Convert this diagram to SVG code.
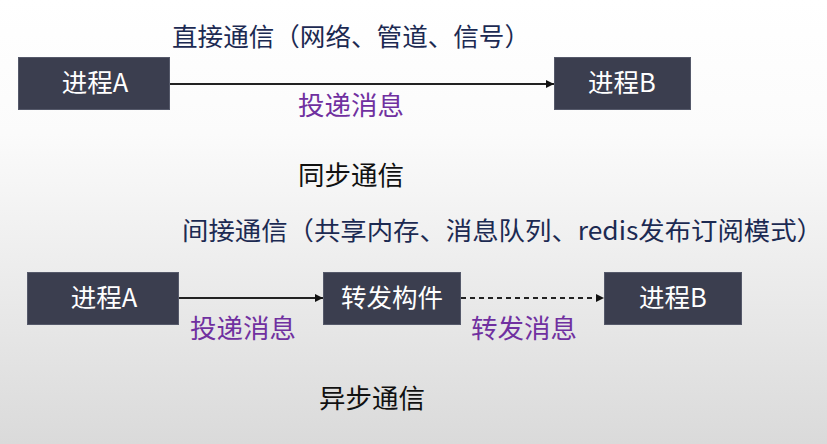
<svg xmlns="http://www.w3.org/2000/svg" width="827" height="444" viewBox="0 0 827 444">
  <defs>
    <linearGradient id="bg" x1="0" y1="0" x2="0" y2="1">
      <stop offset="0" stop-color="#ffffff"/>
      <stop offset="0.3" stop-color="#fbfbfb"/>
      <stop offset="1" stop-color="#dadada"/>
    </linearGradient>
    <marker id="arr" viewBox="0 0 10 10" refX="10" refY="5" markerWidth="8" markerHeight="8" markerUnits="userSpaceOnUse" orient="auto">
      <path d="M0,0 L10,5 L0,10 Z" fill="#111"/>
    </marker>
    <style>
      text { font-family: "Noto Sans CJK SC", "Noto Sans", sans-serif; }
      .box { fill: #3b3e4f; stroke: #55596a; stroke-width: 1; }
      .bt { fill: #ffffff; font-size: 25.5px; text-anchor: middle; }
      .title { fill: #1c2a52; font-size: 25.5px; }
      .lbl { fill: #7030a0; font-size: 26.5px; text-anchor: middle; }
      .cap { fill: #111111; font-size: 26.5px; text-anchor: middle; }
      .line { stroke: #222; stroke-width: 2; fill: none; marker-end: url(#arr); }
      .dash { stroke-dasharray: 5 4; }
    </style>
  </defs>
  <rect x="0" y="0" width="827" height="444" fill="url(#bg)"/>

  <text class="title" x="172" y="46" textLength="358" lengthAdjust="spacingAndGlyphs">直接通信（网络、管道、信号）</text>

  <g id="syncA">
    <rect class="box" x="18.5" y="57.5" width="151" height="52"/>
    <text class="bt" x="95" y="92">进程A</text>
  </g>
  <g id="syncB">
    <rect class="box" x="554.5" y="57.5" width="136" height="52"/>
    <text class="bt" x="622" y="92">进程B</text>
  </g>

  <text class="lbl" x="351" y="115">投递消息</text>
  <text class="cap" x="351" y="185">同步通信</text>

  <text class="title" x="182" y="240" textLength="641" lengthAdjust="spacingAndGlyphs">间接通信（共享内存、消息队列、redis发布订阅模式）</text>

  <g id="asyncA">
    <rect class="box" x="27.5" y="272.5" width="151" height="52"/>
    <text class="bt" x="104" y="307">进程A</text>
  </g>
  <g id="broker">
    <rect class="box" x="323.5" y="272.5" width="137" height="52"/>
    <text class="bt" x="392" y="307">转发构件</text>
  </g>
  <g id="asyncB">
    <rect class="box" x="604.5" y="272.5" width="137" height="52"/>
    <text class="bt" x="673" y="307">进程B</text>
  </g>

  <g id="connectors">
    <line class="line" x1="170" y1="84" x2="554" y2="84"/>
    <line class="line" x1="179" y1="298" x2="323" y2="298"/>
    <line class="line dash" x1="461" y1="298" x2="604" y2="298"/>
  </g>

  <text class="lbl" x="243" y="338">投递消息</text>
  <text class="lbl" x="524" y="338">转发消息</text>
  <text class="cap" x="372" y="408">异步通信</text>
</svg>
